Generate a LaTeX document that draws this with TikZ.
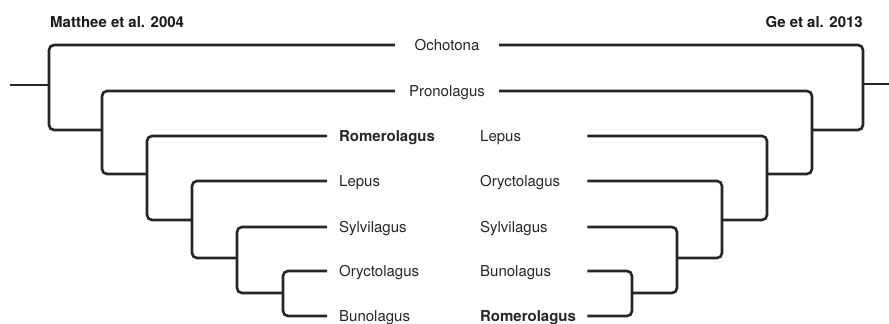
\documentclass[tikz,border=0pt]{standalone}
\usepackage{fontspec}
\setmainfont{TeX Gyre Heros}
\begin{document}
\begin{tikzpicture}[
    x=1pt, y=-1pt,
    taxon/.style={anchor=west, inner xsep=12pt, inner ysep=0pt, text width=95pt, align=left, text height=10.8pt, text depth=0pt, font=\fontsize{15}{18}\selectfont, text=black!85},
    shared/.style={minimum width=104pt, inner sep=0pt, align=center, text height=10.8pt, text depth=0pt, font=\fontsize{15}{18}\selectfont, text=black!85},
    title/.style={inner sep=0pt, text height=10.8pt, text depth=0pt, font=\fontsize{15}{18}\selectfont\bfseries, text=black!90},
    branch/.style={line width=2.6pt, draw=black!85, rounded corners=5pt}
]
    \useasboundingbox (0,0) rectangle (889,324);

    \node[title, anchor=west] (titleLeft) at (50,22) {Matthee et al. 2004};
    \node[title, anchor=east] (titleRight) at (863,22) {Ge et al. 2013};

    \node[shared] (ochotona) at (447,45) {Ochotona};
    \node[shared] (pronolagus) at (447,91) {Pronolagus};

    \node[taxon] (lRom) at (327,136) {\textbf{Romerolagus}};
    \node[taxon] (lLep) at (327,181) {Lepus};
    \node[taxon] (lSyl) at (327,227) {Sylvilagus};
    \node[taxon] (lOry) at (327,271) {Oryctolagus};
    \node[taxon] (lBun) at (327,316) {Bunolagus};

    \node[taxon] (rLep) at (468,136) {Lepus};
    \node[taxon] (rOry) at (468,181) {Oryctolagus};
    \node[taxon] (rSyl) at (468,227) {Sylvilagus};
    \node[taxon] (rBun) at (468,271) {Bunolagus};
    \node[taxon] (rRom) at (468,316) {\textbf{Romerolagus}};

    \coordinate (leftRoot) at (10,85);
    \coordinate (lA) at (49,85);
    \coordinate (lB) at (102,130);
    \coordinate (lC) at (147,174);
    \coordinate (lD) at (192,220);
    \coordinate (lE) at (237,258);
    \coordinate (lF) at (283,293);

    \coordinate (rightRoot) at (889,84);
    \coordinate (rA) at (863,84);
    \coordinate (rB) at (812,130);
    \coordinate (rC) at (767,174);
    \coordinate (rD) at (722,220);
    \coordinate (rE) at (677,258);
    \coordinate (rF) at (632,293);

    \draw[branch] (leftRoot) -- (lA);
    \draw[branch] (ochotona.west) -| (lA) |- (lB);
    \draw[branch] (pronolagus.west) -| (lB) |- (lC);
    \draw[branch] (lRom.west) -| (lC) |- (lD);
    \draw[branch] (lLep.west) -| (lD) |- (lE);
    \draw[branch] (lSyl.west) -| (lE) |- (lF);
    \draw[branch] (lOry.west) -| (lF) |- (lBun.west);

    \draw[branch] (rightRoot) -- (rA);
    \draw[branch] (ochotona.east) -| (rA) |- (rB);
    \draw[branch] (pronolagus.east) -| (rB) |- (rC);
    \draw[branch] (rLep.east) -| (rC) |- (rD);
    \draw[branch] (rOry.east) -| (rD) |- (rE);
    \draw[branch] (rSyl.east) -| (rE) |- (rF);
    \draw[branch] (rBun.east) -| (rF) |- (rRom.east);
\end{tikzpicture}
\end{document}
